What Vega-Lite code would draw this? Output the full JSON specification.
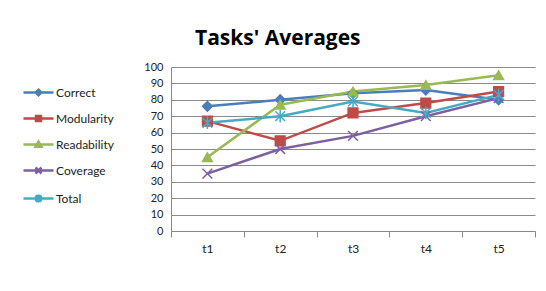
{
  "$schema": "https://vega.github.io/schema/vega-lite/v6.json",
  "autosize": "none",
  "width": 364,
  "height": 164,
  "padding": {"left": 171, "top": 67, "right": 11, "bottom": 60},
  "background": "white",
  "config": {"font": "Lato", "view": {"stroke": null}},
  "title": {"text": "Tasks' Averages", "fontSize": 21, "font": "Open Sans", "fontWeight": "bold", "color": "#000", "anchor": "start", "frame": "group", "dx": 24, "offset": 12},
  "data": {"values": [
    {"task": "t1", "series": "Correct", "value": 76},
    {"task": "t2", "series": "Correct", "value": 80},
    {"task": "t3", "series": "Correct", "value": 84},
    {"task": "t4", "series": "Correct", "value": 86},
    {"task": "t5", "series": "Correct", "value": 80},
    {"task": "t1", "series": "Modularity", "value": 67},
    {"task": "t2", "series": "Modularity", "value": 55},
    {"task": "t3", "series": "Modularity", "value": 72},
    {"task": "t4", "series": "Modularity", "value": 78},
    {"task": "t5", "series": "Modularity", "value": 85},
    {"task": "t1", "series": "Readability", "value": 45},
    {"task": "t2", "series": "Readability", "value": 77},
    {"task": "t3", "series": "Readability", "value": 85},
    {"task": "t4", "series": "Readability", "value": 89},
    {"task": "t5", "series": "Readability", "value": 95},
    {"task": "t1", "series": "Coverage", "value": 35},
    {"task": "t2", "series": "Coverage", "value": 50},
    {"task": "t3", "series": "Coverage", "value": 58},
    {"task": "t4", "series": "Coverage", "value": 70},
    {"task": "t5", "series": "Coverage", "value": 81},
    {"task": "t1", "series": "Total", "value": 66},
    {"task": "t2", "series": "Total", "value": 70},
    {"task": "t3", "series": "Total", "value": 79},
    {"task": "t4", "series": "Total", "value": 72},
    {"task": "t5", "series": "Total", "value": 83}
  ]},
  "encoding": {
    "x": {"field": "task", "type": "nominal", "sort": null,
      "scale": {"type": "band", "paddingInner": 0, "paddingOuter": 0},
      "axis": {"title": null, "labelAngle": 0, "labelFontSize": 12, "labelColor": "#222", "tickBand": "extent", "grid": false, "domainColor": "#888", "tickColor": "#888", "tickSize": 6, "labelPadding": 6}},
    "y": {"field": "value", "type": "quantitative",
      "scale": {"domain": [0, 100], "nice": false},
      "axis": {"title": null, "values": [0,10,20,30,40,50,60,70,80,90,100], "labelFontSize": 11, "labelColor": "#222", "ticks": false, "labelPadding": 8, "gridColor": "#8a8a8a", "domainColor": "#888"}}
  },
  "layer": [
    {
      "mark": {"type": "line", "strokeWidth": 2.5},
      "encoding": {
        "color": {"field": "series", "type": "nominal",
          "scale": {"domain": ["Correct","Modularity","Readability","Coverage","Total"], "range": ["#4A7EBB","#BE4B48","#98B954","#7D60A0","#46AAC5"]}}
      }
    },
    {
      "mark": {"type": "point", "filled": true, "opacity": 1, "strokeWidth": 1.5},
      "encoding": {
        "color": {"field": "series", "type": "nominal"},
        "stroke": {"condition": [
          {"test": "datum.series === 'Correct'", "value": "#4A7EBB"},
          {"test": "datum.series === 'Modularity'", "value": "#BE4B48"},
          {"test": "datum.series === 'Readability'", "value": "#98B954"},
          {"test": "datum.series === 'Coverage'", "value": "#7D60A0"}], "value": "#46AAC5"},
        "shape": {"condition": [
          {"test": "datum.series === 'Correct'", "value": "diamond"},
          {"test": "datum.series === 'Modularity'", "value": "square"},
          {"test": "datum.series === 'Readability'", "value": "triangle-up"},
          {"test": "datum.series === 'Coverage'", "value": "M-1,-1L1,1M-1,1L1,-1"}], "value": "M-1,-1L1,1M-1,1L1,-1M0,-1.3L0,1.3"},
        "size": {"value": 95}
      }
    },
    {
      "transform": [{"filter": "datum.value < 0"}],
      "mark": {"type": "point", "filled": false, "opacity": 1},
      "encoding": {
        "color": {"field": "series", "type": "nominal",
          "legend": {"title": null, "orient": "none", "legendX": -139, "legendY": 19, "symbolSize": 100, "rowPadding": 10, "labelFontSize": 12, "labelColor": "#222", "labelOffset": 11, "symbolStrokeWidth": 2.5, "symbolOpacity": 1}},
        "shape": {"field": "series", "type": "nominal",
          "scale": {"domain": ["Correct","Modularity","Readability","Coverage","Total"], "range": [
            "M-3,0H3M0,-0.55L0.55,0L0,0.55L-0.55,0Z",
            "M-3,0H3M-0.5,-0.5H0.5V0.5H-0.5Z",
            "M-3,0H3M0,-0.6L0.6,0.45H-0.6Z",
            "M-3,0H3M-0.6,-0.6L0.6,0.6M-0.6,0.6L0.6,-0.6",
            "M-3,0H3M-0.6,-0.6L0.6,0.6M-0.6,0.6L0.6,-0.6M0,-0.8V0.8"]},
          "legend": {"title": null, "orient": "none", "legendX": -139, "legendY": 19, "symbolSize": 100, "rowPadding": 10, "labelFontSize": 12, "labelColor": "#222", "labelOffset": 11, "symbolStrokeWidth": 2.5, "symbolOpacity": 1}}
      }
    }
  ]
}
